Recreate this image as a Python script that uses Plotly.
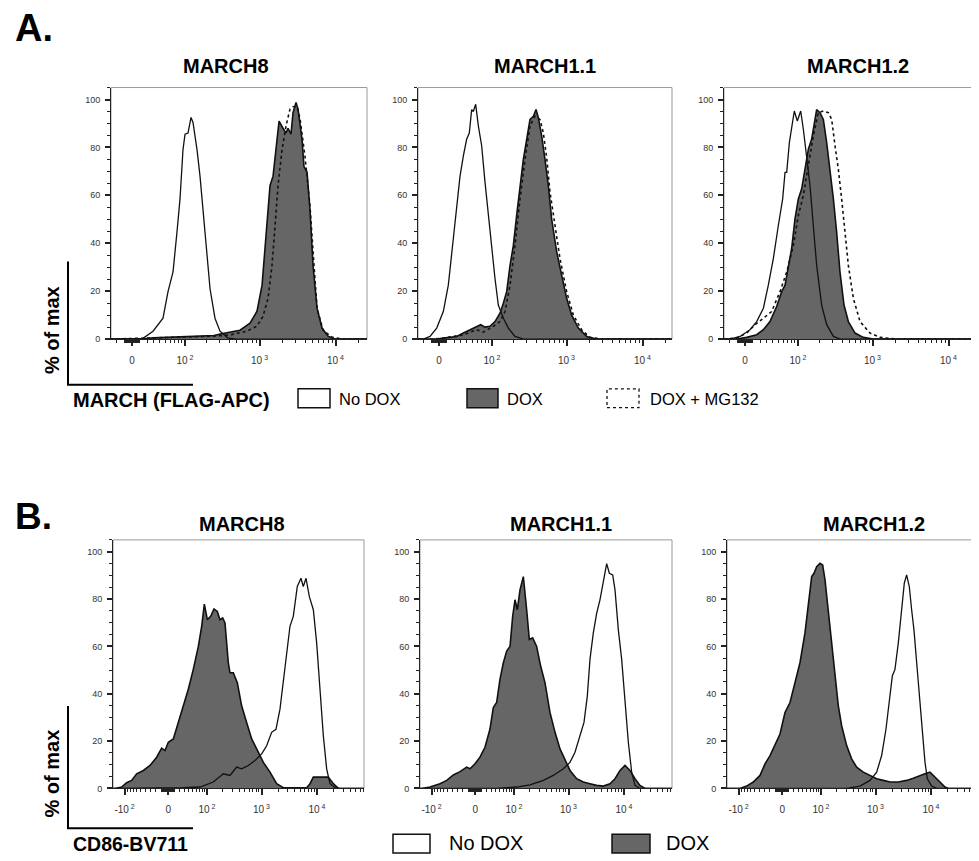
import numpy as np
import plotly.graph_objects as go

W, H = 979, 861
OFF = 8  # page body margin of the html page
FONT = "Liberation Sans, Arial, Helvetica, sans-serif"
GRAY = "#666666"

# ---------------- data (x = biexponential display channel, y = % of max) -------------
# Panel A : MARCH8
a1_nodox_x = [1.046, 1.40, 1.467, 1.599, 1.730, 1.796, 1.862, 1.914, 1.954, 1.993, 2.020, 2.059,
              2.099, 2.125, 2.178, 2.217, 2.257, 2.309, 2.349, 2.414, 2.480, 2.585, 2.70, 4.414]
a1_nodox_y = [0, 0, 0.3, 3.3, 8.7, 19.8, 28, 44.7, 58.5, 79, 85.5, 86,
              92.5, 90.4, 79, 68, 53, 36.5, 21, 8.7, 3.3, 0.4, 0, 0]
a1_dox_x = [1.046, 1.45, 1.60, 1.80, 2.00, 2.20, 2.40, 2.50, 2.612, 2.743, 2.875, 2.967, 3.033,
            3.099, 3.138, 3.178, 3.230, 3.257, 3.309, 3.349, 3.375, 3.414, 3.441, 3.480, 3.507,
            3.559, 3.585, 3.625, 3.664, 3.704, 3.757, 3.822, 3.901, 3.993, 4.414]
a1_dox_y = [0, 0, 0.5, 0.8, 1.0, 1.2, 1.5, 2.2, 3, 3.7, 6.6, 11.6, 22.4,
            47, 64, 68, 83.4, 91, 88, 86, 88, 85.5, 94.5, 98.8, 96,
            83.4, 72, 69.7, 54, 30.7, 12.9, 4.6, 1.2, 0, 0]
a1_mg_x = [1.046, 1.45, 1.60, 1.80, 2.00, 2.20, 2.40, 2.612, 2.835, 2.967, 3.046, 3.112, 3.164,
           3.204, 3.243, 3.296, 3.349, 3.401, 3.441, 3.493, 3.533, 3.599, 3.664, 3.717, 3.757,
           3.836, 3.954, 4.10, 4.414]
a1_mg_y = [0, 0.3, 0.6, 0.8, 1.0, 1.0, 1.2, 1.7, 3.3, 5.4, 9.5, 17, 30.7,
           47, 64, 79, 89, 96, 97, 97, 92, 76, 55.6, 30.7, 12.9,
           3.7, 0.8, 0, 0]

# Panel A : MARCH1.1
a2_nodox_x = [1.046, 1.116, 1.204, 1.292, 1.379, 1.445, 1.511, 1.555, 1.599, 1.643, 1.686, 1.721,
              1.752, 1.774, 1.805, 1.840, 1.884, 1.928, 1.971, 2.015, 2.059, 2.103, 2.169, 2.235,
              2.322, 2.432, 4.388]
a2_nodox_y = [0, 0, 1.1, 4.6, 11.5, 22.5, 42, 55.7, 68, 76.5, 83.4, 86,
              95.8, 95, 98, 89, 80.6, 65.4, 51.6, 39, 25.3, 14.2, 8.7, 4.6,
              1.1, 0, 0]
a2_dox_x = [1.046, 1.30, 1.379, 1.555, 1.643, 1.730, 1.818, 1.871, 1.928, 1.993, 2.059, 2.125,
            2.169, 2.213, 2.257, 2.300, 2.344, 2.388, 2.432, 2.476, 2.520, 2.564, 2.599, 2.629,
            2.673, 2.717, 2.761, 2.805, 2.871, 2.936, 3.002, 3.068, 3.156, 3.265, 3.397, 4.388]
a2_dox_y = [0, 0, 0.4, 1.1, 2.5, 3.9, 5.3, 6, 5, 5.3, 7.3, 10.8,
            15, 19.8, 30.8, 39, 51.6, 64, 75, 83.4, 91.7, 93, 95.8, 92.4,
            84.8, 75, 64, 50, 36.4, 26.7, 17, 10, 4.6, 1.1, 0, 0]
a2_mg_x = [1.046, 1.25, 1.379, 1.643, 1.818, 1.906, 2.037, 2.125, 2.191, 2.257, 2.322, 2.388,
           2.454, 2.520, 2.585, 2.651, 2.695, 2.739, 2.783, 2.835, 2.914, 3.002, 3.090, 3.199,
           3.309, 3.45, 4.388]
a2_mg_y = [0, 0, 0.4, 1.8, 3.9, 2.9, 5.3, 7.3, 11.5, 22.5, 39, 58.5,
           75, 89, 93, 91.7, 86, 75.8, 61.3, 50.2, 33.6, 19.8, 10, 3.9,
           0.7, 0, 0]

# Panel A : MARCH1.2
a3_nodox_x = [1.046, 1.125, 1.257, 1.388, 1.476, 1.564, 1.629, 1.695, 1.761, 1.818, 1.849, 1.871,
              1.906, 1.936, 1.971, 2.011, 2.055, 2.090, 2.134, 2.178, 2.221, 2.265, 2.331, 2.397,
              2.485, 2.572, 4.388]
a3_nodox_y = [0, 0, 1.1, 3.9, 7.3, 12.9, 22.5, 33.6, 47.4, 58.5, 69.6, 69.6,
              82, 89, 95.2, 91, 95.2, 87.6, 76.5, 64, 47.4, 30.8, 14.2, 6,
              1.1, 0, 0]
a3_dox_x = [1.046, 1.213, 1.344, 1.476, 1.564, 1.651, 1.739, 1.805, 1.849, 1.892, 1.936, 1.980,
            2.024, 2.068, 2.112, 2.156, 2.199, 2.230, 2.265, 2.309, 2.353, 2.397, 2.441, 2.485,
            2.528, 2.572, 2.625, 2.682, 2.770, 2.879, 3.011, 4.388]
a3_dox_y = [0, 0, 0.7, 1.8, 3.9, 7.3, 13.6, 19.8, 22.5, 30.8, 37.8, 50.2,
            58.5, 62.7, 71, 79.3, 83.4, 89, 95.8, 94.5, 91.7, 82, 71, 58.5,
            44.7, 28, 14.2, 7.3, 2.5, 0.7, 0, 0]
a3_mg_x = [1.046, 1.213, 1.344, 1.454, 1.564, 1.673, 1.783, 1.871, 1.958, 2.024, 2.090, 2.156,
           2.221, 2.287, 2.353, 2.419, 2.463, 2.507, 2.550, 2.594, 2.638, 2.682, 2.748, 2.836,
           2.967, 3.099, 3.318, 4.388]
a3_mg_y = [0, 0.4, 2.5, 6, 8.7, 11.5, 19.8, 28, 39, 51.6, 60, 72.3,
           84.8, 94.5, 95.2, 94.5, 91.7, 80.6, 71, 58.5, 44.7, 30.8, 17, 7.3,
           2.5, 0.7, 0, 0]

# Panel B : MARCH8
b1_dox_x = [0.324, 0.360, 0.480, 0.570, 0.660, 0.750, 0.871, 0.991, 1.111, 1.201, 1.261, 1.321,
            1.411, 1.501, 1.591, 1.681, 1.771, 1.862, 1.922, 1.970, 2.024, 2.084, 2.144, 2.204,
            2.252, 2.300, 2.342, 2.402, 2.432, 2.492, 2.564, 2.642, 2.732, 2.823, 2.913, 3.033,
            3.153, 3.273, 3.393, 3.814, 3.874, 3.934, 4.204, 4.294, 4.384, 4.847]
b1_dox_y = [0, 0, 0.6, 2.4, 3.4, 6.2, 7.6, 9.7, 13.2, 17, 16, 19.5,
            20.9, 27.9, 34.9, 41.9, 50.3, 60, 68.5, 77.9, 71.3, 72.7, 75.8, 74.8,
            71.3, 72, 69.9, 53, 48.9, 48.9, 44.7, 34.9, 27.9, 20.9, 16.7, 11,
            6.9, 2, 0.3, 0.3, 2, 4.8, 4.8, 2, 0, 0]
b1_nodox_x = [0.324, 1.40, 1.591, 1.892, 2.132, 2.312, 2.432, 2.552, 2.642, 2.762, 2.883, 3.003,
              3.093, 3.183, 3.261, 3.333, 3.393, 3.453, 3.513, 3.573, 3.645, 3.711, 3.753, 3.802,
              3.862, 3.934, 3.994, 4.054, 4.114, 4.174, 4.234, 4.324, 4.414, 4.847]
b1_nodox_y = [0, 0, 0.3, 0.6, 2.7, 6.2, 5.5, 9, 8.3, 9.7, 11.8, 14.6,
              18, 23.7, 25, 33.5, 44.7, 57.3, 68.5, 72.7, 85.3, 88.8, 85.3, 88.8,
              81, 75.5, 61.5, 41.9, 22.3, 8.3, 2, 0.3, 0, 0]

# Panel B : MARCH1.1
b2_dox_x = [0.324, 0.354, 0.504, 0.684, 0.805, 0.925, 1.045, 1.165, 1.225, 1.315, 1.405, 1.495,
            1.585, 1.645, 1.705, 1.765, 1.826, 1.886, 1.946, 1.994, 2.036, 2.078, 2.126, 2.186,
            2.246, 2.294, 2.354, 2.426, 2.498, 2.576, 2.666, 2.757, 2.847, 2.937, 3.027, 3.147,
            3.267, 3.387, 3.507, 3.627, 3.747, 3.838, 3.928, 4.018, 4.108, 4.198, 4.288, 4.378,
            4.865]
b2_dox_y = [0, 0, 0.6, 2, 3.4, 5.7, 7.1, 9, 8.3, 10.4, 13.2, 17.4,
            25.1, 34.2, 36.3, 46.1, 53.1, 58, 60, 72.7, 79.7, 75.5, 83.9, 89.5,
            75.5, 62.9, 63.6, 60, 51.7, 44.7, 32.1, 23.7, 16.7, 11.8, 7.6, 4.1,
            2.7, 2, 1.3, 1, 2, 4.1, 7.6, 9.7, 7.6, 4.1, 1.3, 0,
            0]
b2_nodox_x = [0.324, 1.50, 1.705, 2.066, 2.306, 2.546, 2.726, 2.907, 3.027, 3.117, 3.207, 3.279,
              3.339, 3.387, 3.447, 3.507, 3.567, 3.627, 3.688, 3.736, 3.796, 3.838, 3.898, 3.958,
              4.018, 4.078, 4.138, 4.198, 4.288, 4.865]
b2_nodox_y = [0, 0, 0, 0.6, 1.5, 3.4, 5.5, 8.3, 11, 15.3, 22.3, 27.9,
              39, 54.5, 65.7, 74, 79.7, 88, 95, 90.9, 90.2, 83.9, 67, 54.5,
              36.3, 19.5, 6.9, 1.3, 0, 0]

# Panel B : MARCH1.2
b3_dox_x = [0.324, 0.558, 0.678, 0.798, 0.919, 1.009, 1.099, 1.189, 1.279, 1.369, 1.459, 1.549,
            1.639, 1.729, 1.789, 1.850, 1.892, 1.940, 2.000, 2.048, 2.090, 2.150, 2.210, 2.270,
            2.330, 2.390, 2.480, 2.570, 2.660, 2.780, 2.901, 3.021, 3.141, 3.261, 3.411, 3.561,
            3.681, 3.802, 3.892, 3.982, 4.072, 4.162, 4.252, 4.312, 4.847]
b3_dox_y = [0, 0, 1, 2.7, 5.5, 10.4, 13.9, 18.1, 23, 32.1, 36.3, 44.7,
            53.1, 65.7, 76.9, 89.5, 90.9, 93.7, 95.1, 94.4, 88.1, 75.5, 61.5, 47.5,
            34.9, 26.5, 18.1, 12.5, 9, 6.9, 5.5, 4.1, 3.4, 2.7, 2.7, 3.4,
            4.3, 5.5, 6.2, 6.9, 4.8, 2.7, 0.6, 0, 0]
b3_nodox_x = [0.324, 2.30, 2.480, 2.720, 2.901, 3.021, 3.111, 3.189, 3.249, 3.303, 3.351, 3.411,
              3.471, 3.519, 3.561, 3.609, 3.651, 3.693, 3.742, 3.790, 3.838, 3.892, 3.934, 4.012,
              4.102, 4.847]
b3_nodox_y = [0, 0, 0, 1, 3.4, 6.9, 13.9, 25.1, 36.3, 47.5, 50.3, 61.5,
              75.5, 86.7, 90.2, 85.3, 75.5, 67, 53.1, 39, 25.1, 11, 4.1, 1,
              0, 0]

titles = ["MARCH8", "MARCH1.1", "MARCH1.2"]
y_ticks = [0, 20, 40, 60, 80, 100]
a_major = [0, 100, 1000, 10000]
a_major_text = ["0", "10<sup> 2</sup>", "10<sup> 3</sup>", "10<sup> 4</sup>"]
b_major = [-100, 0, 100, 1000, 10000]
b_major_text = ["-10<sup> 2</sup>", "0", "10<sup> 2</sup>", "10<sup> 3</sup>", "10<sup> 4</sup>"]

# ---------------- biexponential transform ----------------
C = 21.0


def biex(v, kneg=1.0):
    v = np.asarray(v, dtype=float)
    s = np.arcsinh(v / (2 * C)) / np.log(10)
    s = np.where(v < 0, s * kneg, s)
    return (np.log10(C) + s).tolist()


def minor_vals(major):
    out = []
    for n in range(0, 5):
        for k in range(1, 10):
            for sgn in (1, -1):
                v = sgn * k * 10 ** n
                if v not in major:
                    out.append(v)
    return out


def px(x):
    return (x - OFF) / W


def py(y):
    return 1 - (y - OFF) / H


fig = go.Figure()

panels = [
    ("", (111, 367), (88, 341), [1.046, 4.414], (a1_dox_x, a1_dox_y), (a1_nodox_x, a1_nodox_y), (a1_mg_x, a1_mg_y), "A"),
    ("2", (418, 672), (88, 341), [1.046, 4.388], (a2_dox_x, a2_dox_y), (a2_nodox_x, a2_nodox_y), (a2_mg_x, a2_mg_y), "A"),
    ("3", (724, 978), (88, 341), [1.046, 4.388], (a3_dox_x, a3_dox_y), (a3_nodox_x, a3_nodox_y), (a3_mg_x, a3_mg_y), "A"),
    ("4", (113, 364), (543, 793), [0.324, 4.847], (b1_dox_x, b1_dox_y), (b1_nodox_x, b1_nodox_y), None, "B"),
    ("5", (420, 672), (543, 793), [0.324, 4.865], (b2_dox_x, b2_dox_y), (b2_nodox_x, b2_nodox_y), None, "B"),
    ("6", (727, 978), (543, 793), [0.324, 4.847], (b3_dox_x, b3_dox_y), (b3_nodox_x, b3_nodox_y), None, "B"),
]

shapes = []
for sid, (x0, x1), (yt, yb), xr, dox, nodox, mg, grp in panels:
    xa, ya = "x" + sid, "y" + sid
    fig.add_trace(go.Scatter(x=dox[0], y=dox[1], xaxis=xa, yaxis=ya, mode="lines",
                             fill="tozeroy", fillcolor=GRAY,
                             line=dict(color="#111", width=1.6), showlegend=False, hoverinfo="skip"))
    fig.add_trace(go.Scatter(x=nodox[0], y=nodox[1], xaxis=xa, yaxis=ya, mode="lines",
                             line=dict(color="#111", width=1.3), showlegend=False, hoverinfo="skip"))
    if mg is not None:
        fig.add_trace(go.Scatter(x=mg[0], y=mg[1], xaxis=xa, yaxis=ya, mode="lines",
                                 line=dict(color="#111", width=1.6, dash="dot"),
                                 showlegend=False, hoverinfo="skip"))
    if grp == "A":
        maj, majt, kneg = a_major, a_major_text, 1.0
    else:
        maj, majt, kneg = b_major, b_major_text, 1.135
    fig.layout["xaxis" + sid] = dict(
        domain=[px(x0), px(x1)], range=xr, anchor=ya,
        showline=True, linecolor="#222", linewidth=1,
        ticks="outside", ticklen=6, tickwidth=2, tickcolor="#222",
        tickmode="array", tickvals=biex(maj, kneg), ticktext=majt,
        tickfont=dict(size=10, color="#333", family=FONT),
        minor=dict(tickmode="array", tickvals=biex(minor_vals(maj), kneg),
                   ticks="outside", ticklen=3, tickwidth=1, tickcolor="#222"),
        showgrid=False, zeroline=False, fixedrange=True, ticklabelstandoff=6,
    )
    fig.layout["yaxis" + sid] = dict(
        domain=[py(yb), py(yt)], range=[0, 105], anchor=xa,
        showline=True, linecolor="#222", linewidth=1,
        ticks="outside", ticklen=5, tickwidth=1.5, tickcolor="#222",
        tickmode="array", tickvals=y_ticks,
        tickfont=dict(size=9, color="#333", family=FONT),
        minor=dict(dtick=5, ticks="outside", ticklen=3, tickwidth=1, tickcolor="#222"),
        showgrid=False, zeroline=False, fixedrange=True, ticklabelstandoff=3,
    )
    shapes.append(dict(type="rect", xref=xa + " domain", yref=ya + " domain",
                       x0=0, x1=1, y0=0, y1=1, line=dict(color="#9a9a9a", width=1), layer="below"))

# L-shaped axis indicators
for top, bot in [(263, 387), (710, 833)]:
    shapes.append(dict(type="line", xref="paper", yref="paper", x0=px(68), x1=px(68),
                       y0=py(top), y1=py(bot), line=dict(color="#000", width=2)))
    shapes.append(dict(type="line", xref="paper", yref="paper", x0=px(67), x1=px(193),
                       y0=py(bot), y1=py(bot), line=dict(color="#000", width=2)))

# legend boxes
legend_boxes = [
    (298, 330, 391, 410, "white", "solid"),
    (467, 498, 391, 410, GRAY, "solid"),
    (607, 639, 391, 410, "white", "dot"),
    (393, 430, 839, 858, "white", "solid"),
    (612, 650, 839, 858, GRAY, "solid"),
]
for x0, x1, y0, y1, fc, dash in legend_boxes:
    shapes.append(dict(type="rect", xref="paper", yref="paper", x0=px(x0), x1=px(x1),
                       y0=py(y1), y1=py(y0), fillcolor=fc,
                       line=dict(color="#111", width=1.5 if dash == "solid" else 1.3, dash=dash)))

annots = []


def note(text, x, y, size, xanchor="center", bold=False, angle=0):
    annots.append(dict(text=("<b>%s</b>" % text) if bold else text, x=px(x), y=py(y),
                       xref="paper", yref="paper", xanchor=xanchor, yanchor="middle",
                       showarrow=False, textangle=angle,
                       font=dict(size=size, color="#000", family=FONT)))


note("A.", 13, 28, 38, "left", True)
note("B.", 13, 519, 37, "left", True)
for t, xc in zip(titles, [226, 545, 858]):
    note(t, xc, 66, 20, "center", True)
for t, xc in zip(titles, [242, 561, 874]):
    note(t, xc, 527, 20, "center", True)
note("% of max", 52, 332, 20, "center", True, -90)
note("% of max", 52, 778, 20, "center", True, -90)
note("MARCH (FLAG-APC)", 71, 402, 20, "left", True)
note("CD86-BV711", 71, 849, 19.5, "left", True)
note("No DOX", 337, 401, 16.5, "left")
note("DOX", 505, 401, 16.5, "left")
note("DOX + MG132", 648, 401, 16.5, "left")
note("No DOX", 447, 848, 20, "left")
note("DOX", 664, 848, 20, "left")

fig.update_layout(
    width=W, height=H, margin=dict(l=0, r=0, t=0, b=0),
    paper_bgcolor="white", plot_bgcolor="white",
    shapes=shapes, annotations=annots, showlegend=False,
    font=dict(family=FONT),
)

fig.write_html("out.html")
